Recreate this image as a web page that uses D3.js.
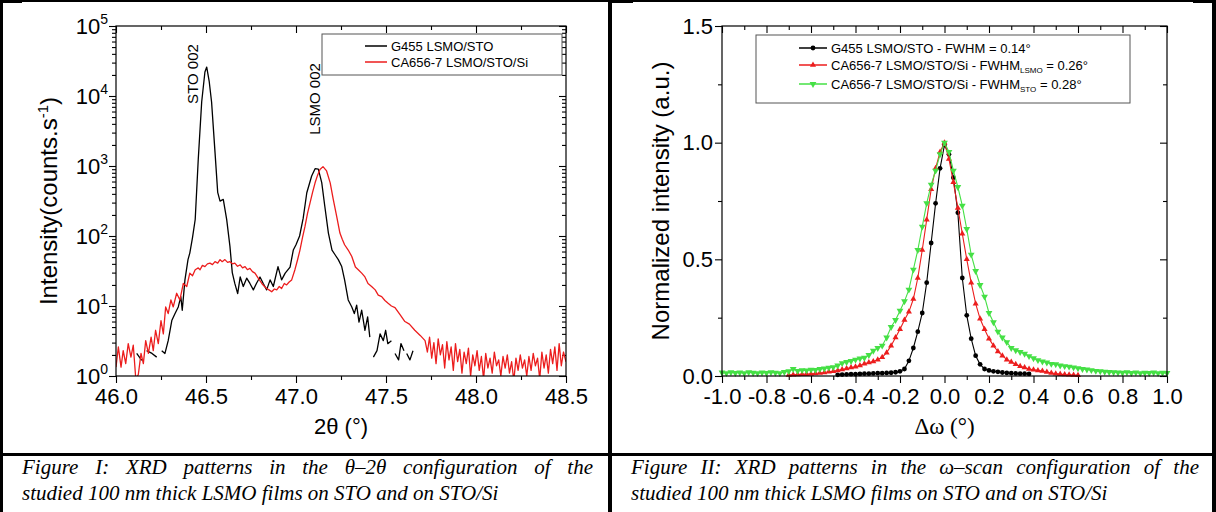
<!DOCTYPE html>
<html><head><meta charset="utf-8">
<script src="https://cdn.jsdelivr.net/npm/d3@7"></script>
<style>body{margin:0;background:#fff}svg{display:block}</style>
</head><body>
<svg id="c" width="1216" height="512"></svg>
<script>
// ---------------- DATA ----------------
// Figure I : theta-2theta scans  [2theta (deg), counts/s]
const g455ThetaScan = [[46.115,2.1],[46.143,1.67],[46.155,null],[46.17,2.3],[46.20,2.1],[46.226,1.86],[46.24,null],[46.254,2.3],[46.272,2.1],[46.29,3.2],[46.31,6.2],[46.328,7.8],[46.346,9.7],[46.36,13.6],[46.368,8.7],[46.383,23.6],[46.40,46],[46.41,57],[46.425,95],[46.44,172],[46.457,1250],[46.476,8200],[46.494,22000],[46.504,25900],[46.518,16000],[46.531,8200],[46.55,1580],[46.565,420],[46.578,315],[46.596,333],[46.615,171],[46.633,71],[46.646,30],[46.66,21],[46.676,15],[46.69,26],[46.707,19],[46.726,25],[46.744,21],[46.763,17],[46.78,21],[46.80,26],[46.818,21],[46.837,17],[46.856,23.6],[46.874,19],[46.90,36.5],[46.92,23.6],[46.94,29.5],[46.967,36],[46.985,63],[47.00,75],[47.02,100],[47.04,180],[47.06,415],[47.087,720],[47.106,915],[47.124,905],[47.143,578],[47.16,266],[47.18,110],[47.20,63],[47.217,54],[47.235,46],[47.254,36.6],[47.27,23.6],[47.29,12.2],[47.31,9.7],[47.324,7.8],[47.337,10.3],[47.35,5.9],[47.365,8.7],[47.383,4.5],[47.398,7.0],[47.41,3.6],[47.42,null],[47.43,1.86],[47.45,2.3],[47.467,4.0],[47.485,3.2],[47.498,4.5],[47.51,2.9],[47.53,3.2],[47.54,null],[47.55,2.1],[47.57,1.7],[47.583,2.9],[47.60,2.3],[47.607,null],[47.615,2.1],[47.633,1.7],[47.65,2.3]];
const ca656ThetaScan = [[46.000,1.34],[46.013,2.6],[46.028,1.34],[46.040,2.3],[46.054,1.5],[46.068,2.9],[46.083,1.86],[46.096,2.75],[46.110,0.9],[46.124,1.05],[46.139,2.1],[46.152,1.5],[46.165,3.2],[46.180,2.1],[46.195,3.6],[46.207,2.3],[46.220,4.5],[46.235,2.9],[46.250,6.2],[46.263,4.0],[46.276,9.7],[46.290,7.8],[46.305,12.2],[46.318,9.7],[46.337,15.2],[46.355,12.2],[46.374,21],[46.393,19],[46.410,29.5],[46.425,27],[46.440,33],[46.457,35],[46.467,33],[46.480,38],[46.494,36.5],[46.508,40],[46.522,41],[46.536,39],[46.550,43],[46.565,41],[46.578,46],[46.590,43],[46.605,46],[46.620,42],[46.633,43],[46.647,40],[46.660,41],[46.675,37],[46.690,38.6],[46.703,35],[46.717,36.5],[46.730,33],[46.744,34.5],[46.758,31],[46.772,29.5],[46.790,25],[46.810,21],[46.825,19],[46.837,17.8],[46.850,17],[46.865,16],[46.880,17.5],[46.893,17],[46.907,19],[46.920,17.8],[46.935,21],[46.948,20],[46.962,22],[46.976,23.6],[46.994,33],[47.008,45],[47.022,63],[47.036,95],[47.050,137],[47.064,210],[47.078,297],[47.092,420],[47.106,575],[47.120,740],[47.133,890],[47.150,980],[47.170,850],[47.190,575],[47.207,333],[47.226,191],[47.244,110],[47.257,90],[47.270,75],[47.290,63],[47.310,51],[47.330,36],[47.346,33],[47.365,29.5],[47.383,26],[47.400,21],[47.420,19],[47.440,17],[47.457,14.3],[47.476,13.6],[47.494,12],[47.510,11],[47.530,10],[47.550,9.5],[47.578,7.5],[47.605,6],[47.630,5.5],[47.660,4.5],[47.690,3.8],[47.717,3.2],[47.730,2.2],[47.742,3.6],[47.754,1.8],[47.766,3.0],[47.778,1.5],[47.790,3.4],[47.802,2.0],[47.814,2.8],[47.826,1.3],[47.838,3.1],[47.850,1.7],[47.862,2.6],[47.874,1.2],[47.886,2.9],[47.898,1.6],[47.910,2.4],[47.922,1.1],[47.934,2.2],[47.946,1.5],[47.958,2.5],[47.970,1.0],[47.982,2.0],[47.994,1.4],[48.006,2.3],[48.018,1.2],[48.030,1.9],[48.042,0.9],[48.054,2.1],[48.066,1.3],[48.078,1.8],[48.090,1.1],[48.102,2.2],[48.114,1.4],[48.126,1.7],[48.138,1.0],[48.150,1.9],[48.162,1.3],[48.174,2.0],[48.186,1.1],[48.198,1.6],[48.210,0.85],[48.222,1.8],[48.234,1.2],[48.246,2.0],[48.258,1.3],[48.270,1.7],[48.282,1.0],[48.294,1.9],[48.306,1.2],[48.318,2.1],[48.330,1.4],[48.342,1.8],[48.354,0.9],[48.366,2.2],[48.378,1.3],[48.390,2.0],[48.402,1.1],[48.414,2.4],[48.426,1.5],[48.438,2.6],[48.450,1.2],[48.462,2.9],[48.474,1.4],[48.486,2.2],[48.500,1.6]];
const thetaSeriesNames = ["G455 LSMO/STO", "CA656-7 LSMO/STO/Si"];
const thetaTickLabels = [46.0, 46.5, 47.0, 47.5, 48.0, 48.5];
const intensityDecades = [1, 10, 100, 1000, 10000, 100000];
const peakLabels = ["STO 002", "LSMO 002"];

// Figure II : omega scans [delta omega (deg), normalized intensity]
const g455OmegaScan = [[-0.48,0.005],[-0.46,0.006],[-0.44,0.007],[-0.42,0.008],[-0.40,0.008],[-0.38,0.009],[-0.36,0.010],[-0.34,0.010],[-0.32,0.011],[-0.30,0.012],[-0.28,0.012],[-0.26,0.013],[-0.24,0.014],[-0.22,0.016],[-0.20,0.020],[-0.18,0.030],[-0.16,0.065],[-0.14,0.12],[-0.12,0.19],[-0.10,0.27],[-0.08,0.40],[-0.06,0.57],[-0.04,0.74],[-0.02,0.89],[0.00,0.99],[0.02,0.95],[0.04,0.85],[0.06,0.70],[0.08,0.42],[0.10,0.26],[0.12,0.16],[0.14,0.087],[0.16,0.05],[0.18,0.03],[0.20,0.024],[0.22,0.02],[0.24,0.018],[0.26,0.015],[0.28,0.013],[0.30,0.012],[0.32,0.011],[0.34,0.010],[0.36,0.010],[0.38,0.009]];
const ca656LsmoOmegaScan = [[-0.70,0.004],[-0.68,0.005],[-0.66,0.006],[-0.64,0.007],[-0.62,0.008],[-0.60,0.009],[-0.58,0.011],[-0.56,0.013],[-0.54,0.015],[-0.52,0.018],[-0.50,0.020],[-0.48,0.024],[-0.46,0.028],[-0.44,0.032],[-0.42,0.036],[-0.40,0.040],[-0.38,0.045],[-0.36,0.052],[-0.34,0.058],[-0.32,0.062],[-0.30,0.070],[-0.28,0.080],[-0.26,0.10],[-0.24,0.13],[-0.22,0.165],[-0.20,0.20],[-0.18,0.24],[-0.16,0.275],[-0.14,0.33],[-0.12,0.42],[-0.10,0.54],[-0.08,0.67],[-0.06,0.80],[-0.04,0.89],[-0.02,0.96],[0.00,1.0],[0.02,0.93],[0.04,0.83],[0.06,0.72],[0.08,0.61],[0.10,0.50],[0.12,0.40],[0.14,0.31],[0.16,0.245],[0.18,0.20],[0.20,0.16],[0.22,0.13],[0.24,0.105],[0.26,0.087],[0.28,0.07],[0.30,0.06],[0.32,0.05],[0.34,0.042],[0.36,0.036],[0.38,0.03],[0.40,0.027],[0.42,0.024],[0.44,0.021],[0.46,0.017],[0.48,0.013],[0.50,0.010],[0.52,0.008],[0.54,0.006],[0.56,0.005],[0.58,0.004],[0.60,0.003]];
const ca656StoOmegaScan = [[-1.00,0.015],[-0.98,0.012],[-0.96,0.016],[-0.94,0.013],[-0.92,0.015],[-0.90,0.012],[-0.88,0.016],[-0.86,0.014],[-0.84,0.012],[-0.82,0.015],[-0.80,0.013],[-0.78,0.016],[-0.76,0.014],[-0.74,0.012],[-0.72,0.017],[-0.70,0.020],[-0.68,0.030],[-0.66,0.022],[-0.64,0.025],[-0.62,0.024],[-0.60,0.027],[-0.58,0.026],[-0.56,0.030],[-0.54,0.032],[-0.52,0.036],[-0.50,0.038],[-0.48,0.045],[-0.46,0.055],[-0.44,0.060],[-0.42,0.064],[-0.40,0.070],[-0.38,0.075],[-0.36,0.078],[-0.34,0.090],[-0.32,0.108],[-0.30,0.12],[-0.28,0.13],[-0.26,0.165],[-0.24,0.21],[-0.22,0.24],[-0.20,0.28],[-0.18,0.32],[-0.16,0.37],[-0.14,0.456],[-0.12,0.54],[-0.10,0.64],[-0.08,0.74],[-0.06,0.82],[-0.04,0.88],[-0.02,0.95],[0.00,1.0],[0.02,0.96],[0.04,0.88],[0.06,0.81],[0.08,0.73],[0.10,0.63],[0.12,0.52],[0.14,0.45],[0.16,0.39],[0.18,0.34],[0.20,0.27],[0.22,0.23],[0.24,0.19],[0.26,0.165],[0.28,0.145],[0.30,0.12],[0.32,0.11],[0.34,0.103],[0.36,0.095],[0.38,0.085],[0.40,0.076],[0.42,0.068],[0.44,0.062],[0.46,0.058],[0.48,0.052],[0.50,0.050],[0.52,0.045],[0.54,0.042],[0.56,0.040],[0.58,0.037],[0.60,0.033],[0.62,0.030],[0.64,0.028],[0.66,0.025],[0.68,0.022],[0.70,0.020],[0.72,0.018],[0.74,0.017],[0.76,0.016],[0.78,0.015],[0.80,0.014],[0.82,0.016],[0.84,0.013],[0.86,0.015],[0.88,0.012],[0.90,0.014],[0.92,0.013],[0.94,0.015],[0.96,0.012],[0.98,0.014],[1.00,0.013]];
const omegaTickLabels = [-1.0,-0.8,-0.6,-0.4,-0.2,0.0,0.2,0.4,0.6,0.8,1.0];
const normTickLabels = [0.0, 0.5, 1.0, 1.5];
const omegaLegend = [
  {pre:"G455 LSMO/STO - FWHM = 0.14°", sub:"", post:""},
  {pre:"CA656-7 LSMO/STO/Si - FWHM", sub:"LSMO", post:" = 0.26°"},
  {pre:"CA656-7 LSMO/STO/Si - FWHM", sub:"STO", post:" = 0.28°"}
];
const captions = [
  {line1:["Figure","I:","XRD","patterns","in","the","θ–2θ","configuration","of","the"], line2:"studied 100 nm thick LSMO films on STO and on STO/Si"},
  {line1:["Figure","II:","XRD","patterns","in","the","ω–scan","configuration","of","the"], line2:"studied 100 nm thick LSMO films on STO and on STO/Si"}
];

// ---------------- DRAWING ----------------
const SANS = "'Liberation Sans', Arial, Helvetica, sans-serif";
const SERIF = "'Liberation Serif', 'Times New Roman', serif";
const RED = "#ec1d1d", GREEN = "#45e045", BLACK = "#000";
const svg = d3.select("#c");
svg.append("rect").attr("width",1216).attr("height",512).attr("fill","#fff");

// table borders
const tb = svg.append("g").attr("fill","#000");
[[0,0,3,512],[608,0,4,512],[1212,0,4,512],[0,0,1216,2],[0,453,1216,3],[0,0,22,3],[608,0,25,3],[1193,0,23,3]]
  .forEach(r => tb.append("rect").attr("x",r[0]).attr("y",r[1]).attr("width",r[2]).attr("height",r[3]));

function styleAxis(g, fs, family) {
  g.select(".domain").remove();
  g.selectAll(".tick line").attr("stroke","#000").attr("stroke-width",1.1);
  g.selectAll(".tick text").attr("font-size",fs).attr("font-family",family||SANS).attr("fill","#000");
}

// ===== Figure I =====
const L = {x0:116, x1:566, y0:26, y1:376};
const xL = d3.scaleLinear().domain([46,48.5]).range([L.x0,L.x1]);
const yL = d3.scaleLog().domain([1,1e5]).range([L.y1,L.y0]);
const gL = svg.append("g");
const minorX = thetaTickLabels.slice(0,-1).map(v => v+0.25);
const minorY = [];
intensityDecades.slice(0,-1).forEach(d => { for (let m=2;m<10;m++) minorY.push(d*m); });

gL.append("g").attr("transform",`translate(0,${L.y1})`)
  .call(d3.axisBottom(xL).tickValues(thetaTickLabels).tickSize(7).tickPadding(5).tickFormat(d=>d.toFixed(1)))
  .call(g=>styleAxis(g,22));
gL.append("g").attr("transform",`translate(0,${L.y1})`)
  .call(d3.axisBottom(xL).tickValues(minorX).tickSize(4).tickFormat("")).call(g=>styleAxis(g,0));
gL.append("g").attr("transform",`translate(0,${L.y0})`)
  .call(d3.axisTop(xL).tickValues(thetaTickLabels).tickSize(-7).tickFormat("")).call(g=>styleAxis(g,0));
gL.append("g").attr("transform",`translate(0,${L.y0})`)
  .call(d3.axisTop(xL).tickValues(minorX).tickSize(-4).tickFormat("")).call(g=>styleAxis(g,0));
gL.append("g").attr("transform",`translate(${L.x0},0)`)
  .call(d3.axisLeft(yL).tickValues(intensityDecades).tickSize(7).tickFormat("")).call(g=>styleAxis(g,0));
gL.append("g").attr("transform",`translate(${L.x0},0)`)
  .call(d3.axisLeft(yL).tickValues(minorY).tickSize(4).tickFormat("")).call(g=>styleAxis(g,0));
gL.append("g").attr("transform",`translate(${L.x1},0)`)
  .call(d3.axisRight(yL).tickValues(intensityDecades).tickSize(-7).tickFormat("")).call(g=>styleAxis(g,0));
gL.append("g").attr("transform",`translate(${L.x1},0)`)
  .call(d3.axisRight(yL).tickValues(minorY).tickSize(-4).tickFormat("")).call(g=>styleAxis(g,0));

// log labels 10^n
intensityDecades.forEach(v => {
  const t = gL.append("text").attr("x",108).attr("y",yL(v)+7.5).attr("text-anchor","end")
    .attr("font-family",SANS).attr("font-size",22).attr("fill","#000");
  t.append("tspan").text("10");
  t.append("tspan").attr("dy",-10).attr("font-size",14).text(String(Math.round(Math.log10(v))));
});

gL.append("clipPath").attr("id","clipL").append("rect")
  .attr("x",L.x0).attr("y",L.y0).attr("width",L.x1-L.x0).attr("height",L.y1-L.y0);
const lineL = d3.line().defined(d=>d[1]!=null).x(d=>xL(d[0])).y(d=>yL(d[1]));
const curvesL = gL.append("g").attr("clip-path","url(#clipL)").attr("fill","none");
curvesL.append("path").datum(g455ThetaScan).attr("d",lineL).attr("stroke",BLACK).attr("stroke-width",1.3).attr("stroke-linejoin","round");
curvesL.append("path").datum(ca656ThetaScan).attr("d",lineL).attr("stroke",RED).attr("stroke-width",1.3).attr("stroke-linejoin","round");

gL.append("rect").attr("x",L.x0).attr("y",L.y0).attr("width",L.x1-L.x0).attr("height",L.y1-L.y0)
  .attr("fill","none").attr("stroke","#000").attr("stroke-width",1.2);

// peak labels
gL.append("text").attr("transform",`translate(198,74) rotate(-90)`).attr("text-anchor","middle")
  .attr("font-family",SANS).attr("font-size",15).text(peakLabels[0]);
gL.append("text").attr("transform",`translate(320,99) rotate(-90)`).attr("text-anchor","middle")
  .attr("font-family",SANS).attr("font-size",15).text(peakLabels[1]);

// legend
const lgL = gL.append("g");
lgL.append("rect").attr("x",322).attr("y",34).attr("width",240).attr("height",41)
  .attr("fill","#fff").attr("stroke","#555").attr("stroke-width",1);
[[BLACK,46],[RED,62]].forEach((c,i) => {
  lgL.append("line").attr("x1",365).attr("x2",387).attr("y1",c[1]).attr("y2",c[1]).attr("stroke",c[0]).attr("stroke-width",1.5);
  lgL.append("text").attr("x",391).attr("y",c[1]+4.5).attr("font-family",SANS).attr("font-size",13).text(thetaSeriesNames[i]);
});

// axis titles
gL.append("text").attr("x",(L.x0+L.x1)/2).attr("y",434).attr("text-anchor","middle")
  .attr("font-family",SANS).attr("font-size",22).text("2θ (°)");
const ytL = gL.append("text").attr("transform",`translate(57,${(L.y0+L.y1)/2}) rotate(-90)`)
  .attr("text-anchor","middle").attr("font-family",SANS).attr("font-size",24);
ytL.append("tspan").text("Intensity(counts.s");
ytL.append("tspan").attr("dy",-9).attr("font-size",15).text("-1");
ytL.append("tspan").attr("dy",9).text(")");

// ===== Figure II =====
const R = {x0:722, x1:1167, y0:26, y1:376};
const xR = d3.scaleLinear().domain([-1,1]).range([R.x0,R.x1]);
const yR = d3.scaleLinear().domain([0,1.5]).range([R.y1,R.y0]);
const gR = svg.append("g");
const minorXR = omegaTickLabels.slice(0,-1).map(v => v+0.1);
const minorYR = normTickLabels.slice(0,-1).map(v => v+0.25);

gR.append("g").attr("transform",`translate(0,${R.y1})`)
  .call(d3.axisBottom(xR).tickValues(omegaTickLabels).tickSize(7).tickPadding(5).tickFormat(d=>d.toFixed(1)))
  .call(g=>styleAxis(g,22));
gR.append("g").attr("transform",`translate(0,${R.y1})`)
  .call(d3.axisBottom(xR).tickValues(minorXR).tickSize(4).tickFormat("")).call(g=>styleAxis(g,0));
gR.append("g").attr("transform",`translate(0,${R.y0})`)
  .call(d3.axisTop(xR).tickValues(omegaTickLabels).tickSize(-7).tickFormat("")).call(g=>styleAxis(g,0));
gR.append("g").attr("transform",`translate(0,${R.y0})`)
  .call(d3.axisTop(xR).tickValues(minorXR).tickSize(-4).tickFormat("")).call(g=>styleAxis(g,0));
gR.append("g").attr("transform",`translate(${R.x0},0)`)
  .call(d3.axisLeft(yR).tickValues(normTickLabels).tickSize(7).tickPadding(2).tickFormat(d=>d.toFixed(1)))
  .call(g=>styleAxis(g,22));
gR.append("g").attr("transform",`translate(${R.x0},0)`)
  .call(d3.axisLeft(yR).tickValues(minorYR).tickSize(4).tickFormat("")).call(g=>styleAxis(g,0));
gR.append("g").attr("transform",`translate(${R.x1},0)`)
  .call(d3.axisRight(yR).tickValues(normTickLabels).tickSize(-7).tickFormat("")).call(g=>styleAxis(g,0));
gR.append("g").attr("transform",`translate(${R.x1},0)`)
  .call(d3.axisRight(yR).tickValues(minorYR).tickSize(-4).tickFormat("")).call(g=>styleAxis(g,0));

const lineR = d3.line().x(d=>xR(d[0])).y(d=>yR(d[1]));
const seriesR = [
  {data:g455OmegaScan, color:BLACK, sym:d3.symbolCircle, size:18, rot:0},
  {data:ca656LsmoOmegaScan, color:RED, sym:d3.symbolTriangle, size:16, rot:0},
  {data:ca656StoOmegaScan, color:GREEN, sym:d3.symbolTriangle, size:20, rot:180}
];
const curvesR = gR.append("g");
seriesR.forEach(s => {
  curvesR.append("path").datum(s.data).attr("d",lineR).attr("fill","none").attr("stroke",s.color).attr("stroke-width",1.1);
  const sym = d3.symbol().type(s.sym).size(s.size);
  curvesR.append("g").selectAll("path").data(s.data).join("path")
    .attr("transform",d=>`translate(${xR(d[0])},${yR(d[1])}) rotate(${s.rot})`)
    .attr("d",sym).attr("fill",s.color);
});

gR.append("rect").attr("x",R.x0).attr("y",R.y0).attr("width",R.x1-R.x0).attr("height",R.y1-R.y0)
  .attr("fill","none").attr("stroke","#000").attr("stroke-width",1.2);

// legend
const lgR = gR.append("g");
lgR.append("rect").attr("x",756).attr("y",35).attr("width",374).attr("height",68)
  .attr("fill","#fff").attr("stroke","#555").attr("stroke-width",1);
[48,65,84].forEach((yy,i) => {
  const s = seriesR[i];
  lgR.append("line").attr("x1",799).attr("x2",827).attr("y1",yy).attr("y2",yy).attr("stroke",s.color).attr("stroke-width",1.5);
  lgR.append("path").attr("transform",`translate(813,${yy}) rotate(${s.rot})`).attr("d",d3.symbol().type(s.sym).size(s.size)).attr("fill",s.color);
  const t = lgR.append("text").attr("x",831).attr("y",yy+4.5).attr("font-family",SANS).attr("font-size",13);
  t.append("tspan").text(omegaLegend[i].pre);
  if (omegaLegend[i].sub) {
    t.append("tspan").attr("dy",3).attr("font-size",8).text(omegaLegend[i].sub);
    t.append("tspan").attr("dy",-3).text(omegaLegend[i].post);
  }
});

// axis titles
gR.append("text").attr("x",(R.x0+R.x1)/2).attr("y",434).attr("text-anchor","middle")
  .attr("font-family",SERIF).attr("font-size",23).text("Δω (°)");
gR.append("text").attr("transform",`translate(669,${(R.y0+R.y1)/2}) rotate(-90)`)
  .attr("text-anchor","middle").attr("font-family",SANS).attr("font-size",24).text("Normalized intensity (a.u.)");

// ===== captions =====
function caption(c, x0, x1) {
  const g = svg.append("g").attr("font-family",SERIF).attr("font-style","italic").attr("font-size",21).attr("fill","#000");
  const els = c.line1.map(w => g.append("text").attr("y",474).text(w));
  const widths = els.map(e => e.node().getComputedTextLength());
  const gap = (x1 - x0 - d3.sum(widths)) / (els.length - 1);
  let x = x0;
  els.forEach((e,i) => { e.attr("x",x); x += widths[i] + gap; });
  g.append("text").attr("x",x0).attr("y",500).text(c.line2);
}
caption(captions[0], 22, 593);
caption(captions[1], 631, 1199);
</script>
</body></html>
